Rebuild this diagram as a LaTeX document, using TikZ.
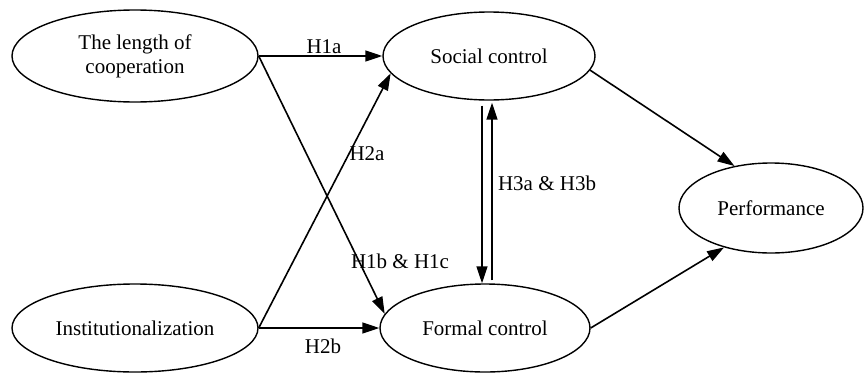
\documentclass[tikz,border=0pt]{standalone}
\usepackage{fontspec}
\setmainfont{Liberation Serif}
\usetikzlibrary{shapes.geometric,arrows.meta}
\begin{document}
\begin{tikzpicture}[x=1pt,y=-1pt,
  construct/.style={ellipse,draw,line width=1.4pt,inner sep=0pt,align=center,
    font=\fontsize{21}{24}\selectfont},
  link/.style={line width=1.6pt,-{Triangle[length=17pt,width=11pt]}},
  lbl/.style={font=\fontsize{21}{24}\selectfont,inner sep=0pt}]
\useasboundingbox (0,0) rectangle (864,372);
\node[construct,minimum width=246pt,minimum height=92pt] (L) at (135,56) {The length of\\cooperation};
\node[construct,minimum width=212pt,minimum height=88pt] (S) at (489,56) {Social control};
\node[construct,minimum width=246pt,minimum height=88pt] (I) at (135,328) {Institutionalization};
\node[construct,minimum width=210pt,minimum height=88pt] (F) at (485,328) {Formal control};
\node[construct,minimum width=184pt,minimum height=90pt] (P) at (771,208) {Performance};

\draw[link] (L.east) -- (S.west);
\draw[link] (L.east) -- (F.172);
\draw[link] (I.east) -- (S.190);
\draw[link] (I.east) -- (F.west);
\draw[link] ([shift={(-7,5)}]S.south) -- ([shift={(-3,0)}]F.north);
\draw[link] ([shift={(7,-3)}]F.north) -- ([shift={(3,2)}]S.south);
\draw[link] (S.-8) -- (P.131);
\draw[link] (F.east) -- (P.220);

\node[lbl] (h1a) at (324,47) {H1a};
\node[lbl] (h2a) at (367,154) {H2a};
\node[lbl] (h1b) at (400,261) {H1b \& H1c};
\node[lbl] (h2b) at (323,346) {H2b};
\node[lbl] (h3) at (547,183) {H3a \& H3b};
\end{tikzpicture}
\end{document}
